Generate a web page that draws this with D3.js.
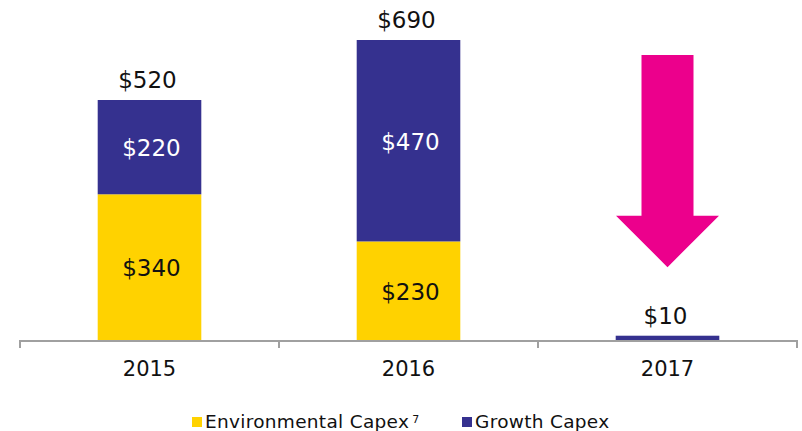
<!DOCTYPE html>
<html>
<head>
<meta charset="utf-8">
<script src="https://cdn.jsdelivr.net/npm/d3@7"></script>
<style>
  body { margin: 0; background: #fff; }
  svg { display: block; font-family: "DejaVu Sans", Verdana, sans-serif; }
</style>
</head>
<body>
<svg id="chart" width="802" height="431"></svg>
<script>
// Data
const years        = ["2015", "2016", "2017"]
const environmental = [340, 230, 0]
const growth        = [220, 470, 10]
const totals        = [520, 690, 10]

const seriesNames  = ["Environmental Capex", "Growth Capex"]
const seriesColors = ["#FFD200", "#35318F"]

// arrow annotation over 2017, in value units
const arrowTop  = 665
const arrowNeck = 290
const arrowTip  = 170

const svg = d3.select("#chart")

const x = d3.scaleBand()
    .domain(years)
    .range([20, 797])
    .padding(0)

const y = d3.scaleLinear()
    .domain([0, 700])
    .range([340, 40])

const barW = x.bandwidth() * 0.4

const rows = years.map((yr, i) => ({ year: yr, env: environmental[i], growth: growth[i], total: totals[i] }))
const stacked = d3.stack().keys(["env", "growth"])(rows)

// bars
svg.append("g")
  .selectAll("g")
  .data(stacked)
  .enter().append("g")
    .attr("fill", (d, i) => seriesColors[i])
  .selectAll("rect")
  .data(d => d)
  .enter().append("rect")
    .attr("x", d => x(d.data.year) + x.bandwidth() / 2 - barW / 2)
    .attr("y", d => y(d[1]))
    .attr("width", barW)
    .attr("height", d => y(d[0]) - y(d[1]))

// labels inside segments
stacked.forEach((layer, li) => {
  svg.append("g")
    .selectAll("text")
    .data(layer.filter(d => d[1] - d[0] > 50 && !(li == 1 && d.data.env == 0)))
    .enter().append("text")
      .attr("x", d => x(d.data.year) + x.bandwidth() / 2 + 2)
      .attr("y", d => (y(d[0]) + y(d[1])) / 2 + 1)
      .attr("dy", "0.36em")
      .attr("text-anchor", "middle")
      .attr("font-size", 23)
      .attr("fill", li == 1 ? "#fff" : "#111")
      .text(d => "$" + (d[1] - d[0]))
})

// totals above bars
svg.append("g")
  .selectAll("text")
  .data(rows)
  .enter().append("text")
    .attr("x", d => x(d.year) + x.bandwidth() / 2 - 2)
    .attr("y", d => y(d.env + d.growth) - 12)
    .attr("text-anchor", "middle")
    .attr("font-size", 23)
    .attr("fill", "#111")
    .text(d => "$" + d.total)

// axis: line with ticks at band edges
const axis = svg.append("g")
const axisY = 341
axis.append("line")
    .attr("x1", x.range()[0]).attr("x2", x.range()[1])
    .attr("y1", axisY).attr("y2", axisY)
    .attr("stroke", "#A0A0A0").attr("stroke-width", 2)
d3.range(years.length + 1).forEach(i => {
  const tx = x.range()[0] + i * x.step()
  axis.append("line")
      .attr("x1", tx).attr("x2", tx)
      .attr("y1", axisY - 1).attr("y2", axisY + 7)
      .attr("stroke", "#A0A0A0").attr("stroke-width", 2)
})
axis.selectAll("text.year")
  .data(years)
  .enter().append("text")
    .attr("class", "year")
    .attr("x", d => x(d) + x.bandwidth() / 2)
    .attr("y", 376)
    .attr("text-anchor", "middle")
    .attr("font-size", 21)
    .attr("fill", "#111")
    .text(d => d)

// arrow
const ax = x("2017") + x.bandwidth() / 2
const shaftW = 52, headW = 103
svg.append("path")
    .attr("fill", "#EC008C")
    .attr("d", d3.line()([
      [ax - shaftW / 2, y(arrowTop)],
      [ax + shaftW / 2, y(arrowTop)],
      [ax + shaftW / 2, y(arrowNeck)],
      [ax + headW / 2, y(arrowNeck)],
      [ax, y(arrowTip)],
      [ax - headW / 2, y(arrowNeck)],
      [ax - shaftW / 2, y(arrowNeck)]
    ]) + "Z")

// legend
const legend = svg.append("g").attr("transform", "translate(192,428)")
const legendX = [0, 270]
seriesNames.forEach((name, i) => {
  const g = legend.append("g").attr("transform", `translate(${legendX[i]},0)`)
  g.append("rect")
      .attr("x", 0).attr("y", -11)
      .attr("width", 10).attr("height", 10)
      .attr("fill", seriesColors[i])
  const t = g.append("text")
      .attr("x", 13)
      .attr("font-size", 18.5)
      .attr("letter-spacing", 0.3)
      .attr("fill", "#111")
      .text(name)
  if (i == 0)
    t.append("tspan").attr("font-size", 11).attr("dx", 3).attr("dy", -5).text("7")
})
</script>
</body>
</html>
